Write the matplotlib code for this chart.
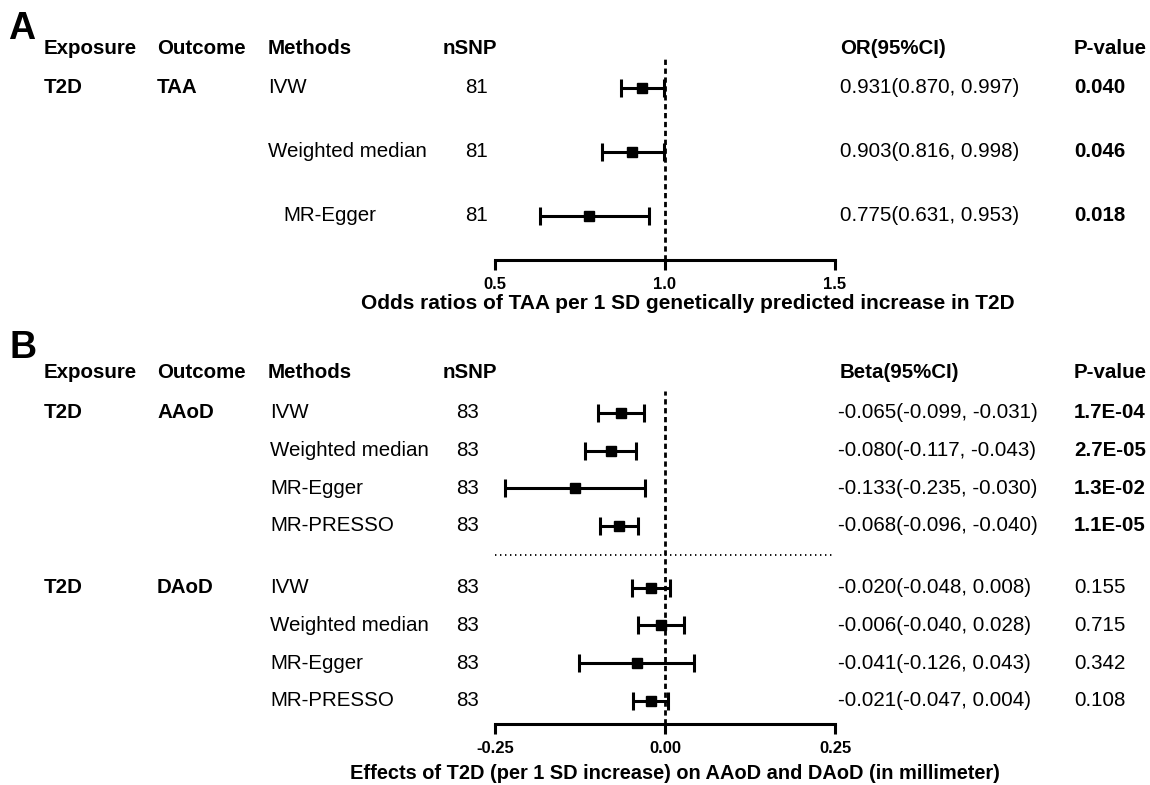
import matplotlib
matplotlib.use("Agg")
import matplotlib.pyplot as plt
from matplotlib.transforms import blended_transform_factory

plt.rcParams["font.family"] = ["Liberation Sans", "DejaVu Sans"]
plt.rcParams["lines.scale_dashes"] = False

W, H = 1150, 785

# ---- panel A data (odds ratios) ----
a_exposure = "T2D"
a_outcome = "TAA"
a_methods = ["IVW", "Weighted median", "MR-Egger"]
a_nsnp = [81, 81, 81]
a_or = [0.931, 0.903, 0.775]
a_lo = [0.870, 0.816, 0.631]
a_hi = [0.997, 0.998, 0.953]
a_p = ["0.040", "0.046", "0.018"]
a_ticks = [0.5, 1.0, 1.5]

# ---- panel B data (beta, mm) ----
b_exposure = "T2D"
b_outcomes = ["AAoD", "DAoD"]
b_methods = ["IVW", "Weighted median", "MR-Egger", "MR-PRESSO"]
b_nsnp = [83, 83, 83, 83]
b_beta = {"AAoD": [-0.065, -0.080, -0.133, -0.068],
          "DAoD": [-0.020, -0.006, -0.041, -0.021]}
b_lo = {"AAoD": [-0.099, -0.117, -0.235, -0.096],
        "DAoD": [-0.048, -0.040, -0.126, -0.047]}
b_hi = {"AAoD": [-0.031, -0.043, -0.030, -0.040],
        "DAoD": [0.008, 0.028, 0.043, 0.004]}
b_p = {"AAoD": ["1.7E-04", "2.7E-05", "1.3E-02", "1.1E-05"],
       "DAoD": ["0.155", "0.715", "0.342", "0.108"]}
b_ticks = [-0.25, 0.0, 0.25]

FS = 14.8
NARROW = ["Liberation Sans Narrow", "Liberation Sans", "DejaVu Sans"]

fig = plt.figure(figsize=(W / 100, H / 100), dpi=100)


def box(x0, x1, ytop, ybot):
    return [x0 / W, 1 - ybot / H, (x1 - x0) / W, (ybot - ytop) / H]


def ftext(x, y, s, bold=False, ha="left", size=FS):
    fig.text(x / W, 1 - y / H, s, ha=ha, va="center",
             fontsize=size, fontweight="bold" if bold else "normal")


def style_axis(ax, ticks, fmt, xlabel, label_x, label_size, labelpad):
    for side in ["left", "right", "top"]:
        ax.spines[side].set_visible(False)
    ax.spines["bottom"].set_linewidth(2.2)
    ax.set_yticks([])
    ax.set_xticks(ticks)
    ax.set_xticklabels([fmt.format(t) for t in ticks])
    ax.tick_params(axis="x", length=7, width=2.2, pad=5)
    for lab in ax.get_xticklabels():
        lab.set_fontfamily(NARROW)
        lab.set_fontweight("bold")
        lab.set_fontsize(12)
    ax.set_xlabel(xlabel, fontsize=label_size, fontweight="bold", family=NARROW,
                  labelpad=labelpad)
    ax.xaxis.label.set_x(label_x)
    ax.patch.set_alpha(0)


def forest(ax, rows, est, lo, hi):
    xerr = [[e - l for e, l in zip(est, lo)], [h - e for e, h in zip(est, hi)]]
    ax.errorbar(est, rows, xerr=xerr, fmt="s", color="black", markersize=7.8,
                elinewidth=2.2, capsize=6.5, capthick=2.2, zorder=3)


def headers(y, effect_label):
    for x, s in [(44, "Exposure"), (157, "Outcome"), (268, "Methods"), (443, "nSNP"),
                 (840, effect_label), (1074, "P-value")]:
        ftext(x, y, s, bold=True)


# ---------------- Panel A ----------------
ftext(8, 29, "A", bold=True, size=27)
headers(48, "OR(95%CI)")

axA = fig.add_axes(box(495, 835, 56, 260))
rowsA = list(range(len(a_methods)))
axA.set_xlim(0.5, 1.5)
axA.set_ylim(2.69, -0.5)
axA.axvline(1.0, color="black", lw=2.0, dashes=(3.8, 2.6), zorder=2)
forest(axA, rowsA, a_or, a_lo, a_hi)
style_axis(axA, a_ticks, "{:.1f}",
           "Odds ratios of TAA per 1 SD genetically predicted increase in T2D",
           0.568, 15, 2)

trA = blended_transform_factory(fig.transFigure, axA.transData)
method_x_A = [268, 268, 283]
for i, r in enumerate(rowsA):
    kw = dict(transform=trA, va="center", fontsize=FS)
    if i == 0:
        fig.text(44 / W, r, a_exposure, fontweight="bold", **kw)
        fig.text(157 / W, r, a_outcome, fontweight="bold", **kw)
    fig.text(method_x_A[i] / W, r, a_methods[i], **kw)
    fig.text(488 / W, r, str(a_nsnp[i]), ha="right", **kw)
    fig.text(840 / W, r, f"{a_or[i]:.3f}({a_lo[i]:.3f}, {a_hi[i]:.3f})", **kw)
    fig.text(1074 / W, r, a_p[i], fontweight="bold", **kw)

# ---------------- Panel B ----------------
ftext(10, 348, "B", bold=True, size=27)
headers(373, "Beta(95%CI)")

axB = fig.add_axes(box(495, 835, 391, 724))
axB.set_xlim(-0.25, 0.25)
axB.set_ylim(8.27, -0.585)
axB.axvline(0.0, color="black", lw=2.0, dashes=(3.8, 2.6), zorder=2)
group_start = [0, 4.65]
axB.plot([-0.25, 0.25], [3.78, 3.78], color="black", lw=1.3, dashes=(1, 2.6),
         solid_capstyle="butt", clip_on=False)

trB = blended_transform_factory(fig.transFigure, axB.transData)
for g, outcome in enumerate(b_outcomes):
    rows = [group_start[g] + k for k in range(len(b_methods))]
    forest(axB, rows, b_beta[outcome], b_lo[outcome], b_hi[outcome])
    for i, r in enumerate(rows):
        kw = dict(transform=trB, va="center", fontsize=FS)
        if i == 0:
            fig.text(44 / W, r, b_exposure, fontweight="bold", **kw)
            fig.text(157 / W, r, outcome, fontweight="bold", **kw)
        fig.text(270 / W, r, b_methods[i], **kw)
        fig.text(479 / W, r, str(b_nsnp[i]), ha="right", **kw)
        b, lo, hi = b_beta[outcome][i], b_lo[outcome][i], b_hi[outcome][i]
        fig.text(838 / W, r, f"{b:.3f}({lo:.3f}, {hi:.3f})", **kw)
        fig.text(1074 / W, r, b_p[outcome][i],
                 fontweight="bold" if g == 0 else "normal", **kw)

style_axis(axB, b_ticks, "{:.2f}",
           "Effects of T2D (per 1 SD increase) on AAoD and DAoD (in millimeter)",
           0.529, 14.4, 6)

fig.savefig("out.png", dpi=100)
